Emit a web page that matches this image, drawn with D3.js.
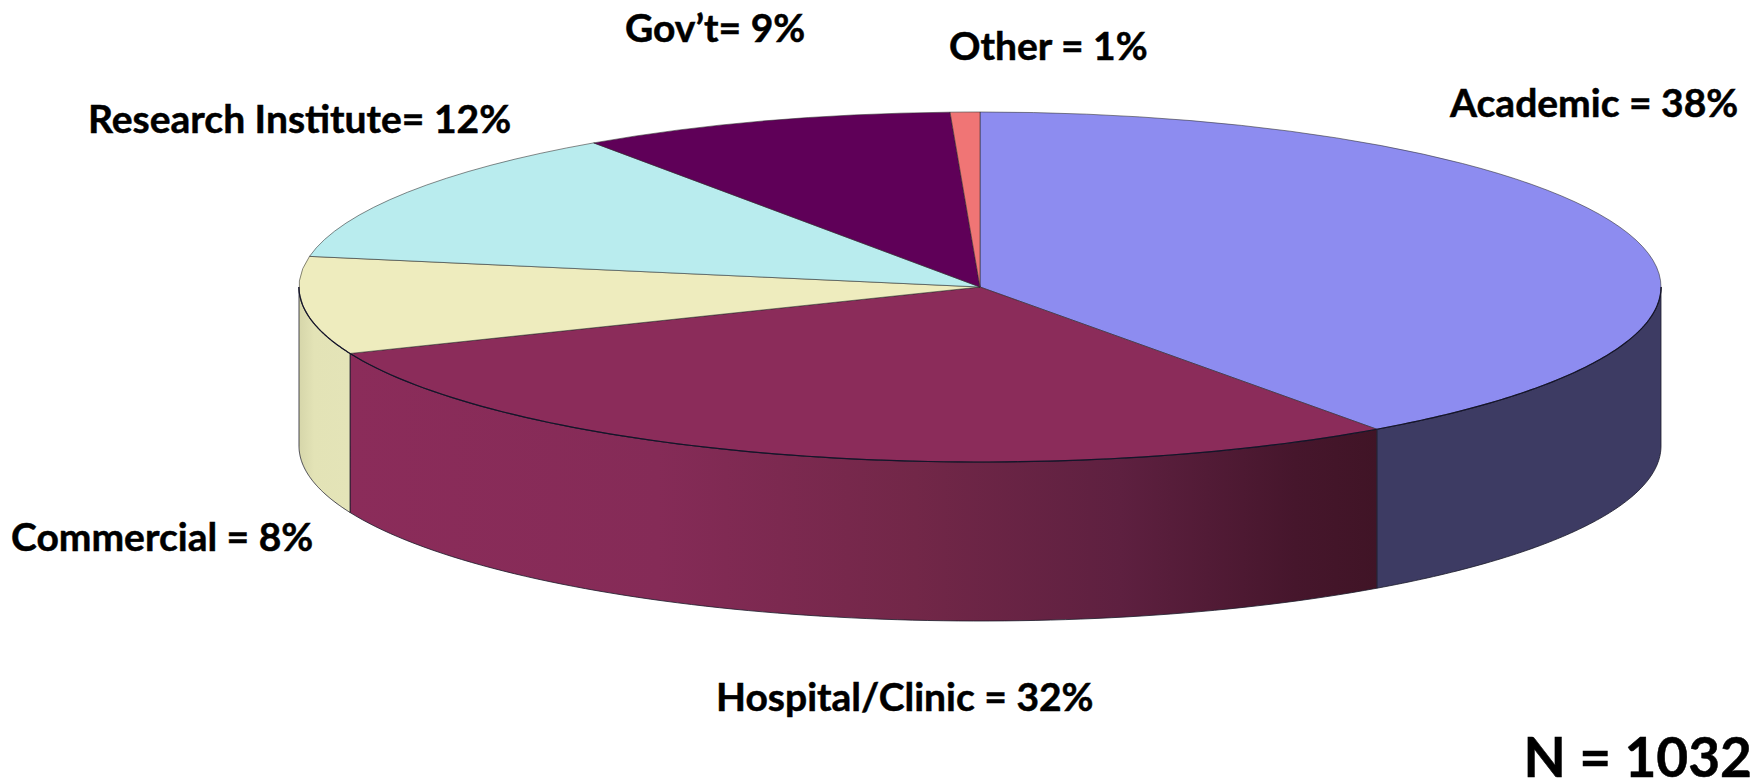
<!DOCTYPE html>
<html>
<head>
<meta charset="utf-8">
<script src="https://cdn.jsdelivr.net/npm/d3@7"></script>
<style>
  html, body { margin: 0; background: #fff; }
  text { font-family: Lato, "Open Sans", sans-serif; font-weight: 700; fill: #000; stroke: #000; stroke-width: 0.5px; }
</style>
</head>
<body>
<div id="content"></div>
<script>
const categories = ["Academic", "Hospital/Clinic", "Commercial", "Research Institute", "Gov’t", "Other"];
// percentages printed on the labels
const labelPct = [38, 32, 8, 12, 9, 1];
const labelSep = [" = ", " = ", " = ", "= ", "= ", " = "];
// share of the ellipse each slice takes in the picture (3D tilt skews them from the printed %)
const drawnShare = [40.1, 28.7, 9.0, 12.6, 8.9, 0.7];
const topColors = ["#8d8cf0", "#8b2c5a", "#eeecbe", "#b9ecee", "#5f0058", "#f07575"];
const wallColors = ["#3d3b63", "url(#hospitalWall)", "url(#commercialWall)", "#000", "#000", "#000"];
const totalN = 1032;

const width = 1761;
const height = 781;
const cx = 980;
const cy = 287;
const rx = 681;
const ry = 175;
const depth = 159;

// baseline start of each label, same order as categories
const labelPos = [
  [1450, 117], [716, 711], [11, 551], [88, 133], [625, 42], [949, 60],
];

const svg = d3
  .select("#content")
  .append("svg")
  .attr("width", width)
  .attr("height", height)
  .style("display", "block");

const slices = d3.pie().sort(null).value((d) => d)(drawnShare);

const px = (a) => cx + rx * Math.sin(a);
const py = (a) => cy - ry * Math.cos(a);

// Wall gradients
const defs = svg.append("defs");

const hospital = slices[1];
const hospitalGrad = defs
  .append("linearGradient")
  .attr("id", "hospitalWall")
  .attr("gradientUnits", "userSpaceOnUse")
  .attr("x1", px(hospital.endAngle))
  .attr("x2", px(hospital.startAngle))
  .attr("y1", 0)
  .attr("y2", 0);
[
  [0, "#8b2c5a"],
  [0.3, "#852b57"],
  [0.55, "#722748"],
  [0.75, "#5e2040"],
  [0.92, "#46162c"],
  [1, "#401426"],
].forEach(([o, c]) => hospitalGrad.append("stop").attr("offset", o).attr("stop-color", c));

const commercialGrad = defs
  .append("linearGradient")
  .attr("id", "commercialWall")
  .attr("gradientUnits", "userSpaceOnUse")
  .attr("x1", px(Math.PI * 1.5))
  .attr("x2", px(slices[2].startAngle))
  .attr("y1", 0)
  .attr("y2", 0);
[
  [0, "#d6d6aa"],
  [0.3, "#e3e3b6"],
  [1, "#e4e4b8"],
].forEach(([o, c]) => commercialGrad.append("stop").attr("offset", o).attr("stop-color", c));

// Side walls, only the front half of the ellipse shows
const line = d3.line();
const frontAngles = (d) => {
  const a0 = Math.max(d.startAngle, Math.PI / 2);
  const a1 = Math.min(d.endAngle, Math.PI * 1.5);
  return d3.range(0, 81).map((i) => a0 + ((a1 - a0) * i) / 80);
};
const wallPath = (d) => {
  const steps = frontAngles(d);
  const upper = steps.map((a) => [px(a), py(a)]);
  const lower = steps.map((a) => [px(a), py(a) + depth]).reverse();
  return line(upper.concat(lower)) + "Z";
};
const frontSlices = slices.filter(
  (d) => d.startAngle < Math.PI * 1.5 && d.endAngle > Math.PI / 2,
);

svg
  .append("g")
  .selectAll("path")
  .data(frontSlices)
  .enter()
  .append("path")
  .attr("d", wallPath)
  .attr("fill", (d) => wallColors[d.index])
  .attr("stroke", "#1c1c2a")
  .attr("stroke-opacity", 0.8)
  .attr("stroke-width", 1);

// Top face
const arc = d3.arc().innerRadius(0).outerRadius(1000);

svg
  .append("g")
  .attr("transform", `translate(${cx},${cy}) scale(${rx / 1000},${ry / 1000})`)
  .selectAll("path")
  .data(slices)
  .enter()
  .append("path")
  .attr("d", arc)
  .attr("fill", (d) => topColors[d.index])
  .attr("stroke", "#2a2a2a")
  .attr("stroke-opacity", 0.55)
  .attr("stroke-width", 1)
  .attr("vector-effect", "non-scaling-stroke");

// Dark rim where the top meets the walls
svg
  .append("g")
  .selectAll("path")
  .data(frontSlices)
  .enter()
  .append("path")
  .attr("d", (d) => line(frontAngles(d).map((a) => [px(a), py(a)])))
  .attr("fill", "none")
  .attr("stroke", "#14142a")
  .attr("stroke-width", 1.2);

// Labels
svg
  .append("g")
  .selectAll("text")
  .data(categories)
  .enter()
  .append("text")
  .attr("x", (d, i) => labelPos[i][0])
  .attr("y", (d, i) => labelPos[i][1])
  .attr("font-size", 39)
  .text((d, i) => `${d}${labelSep[i]}${labelPct[i]}%`);

svg
  .append("text")
  .attr("x", 1752)
  .attr("y", 777)
  .attr("text-anchor", "end")
  .attr("font-size", 55)
  .text(`N = ${totalN}`);
</script>
</body>
</html>
